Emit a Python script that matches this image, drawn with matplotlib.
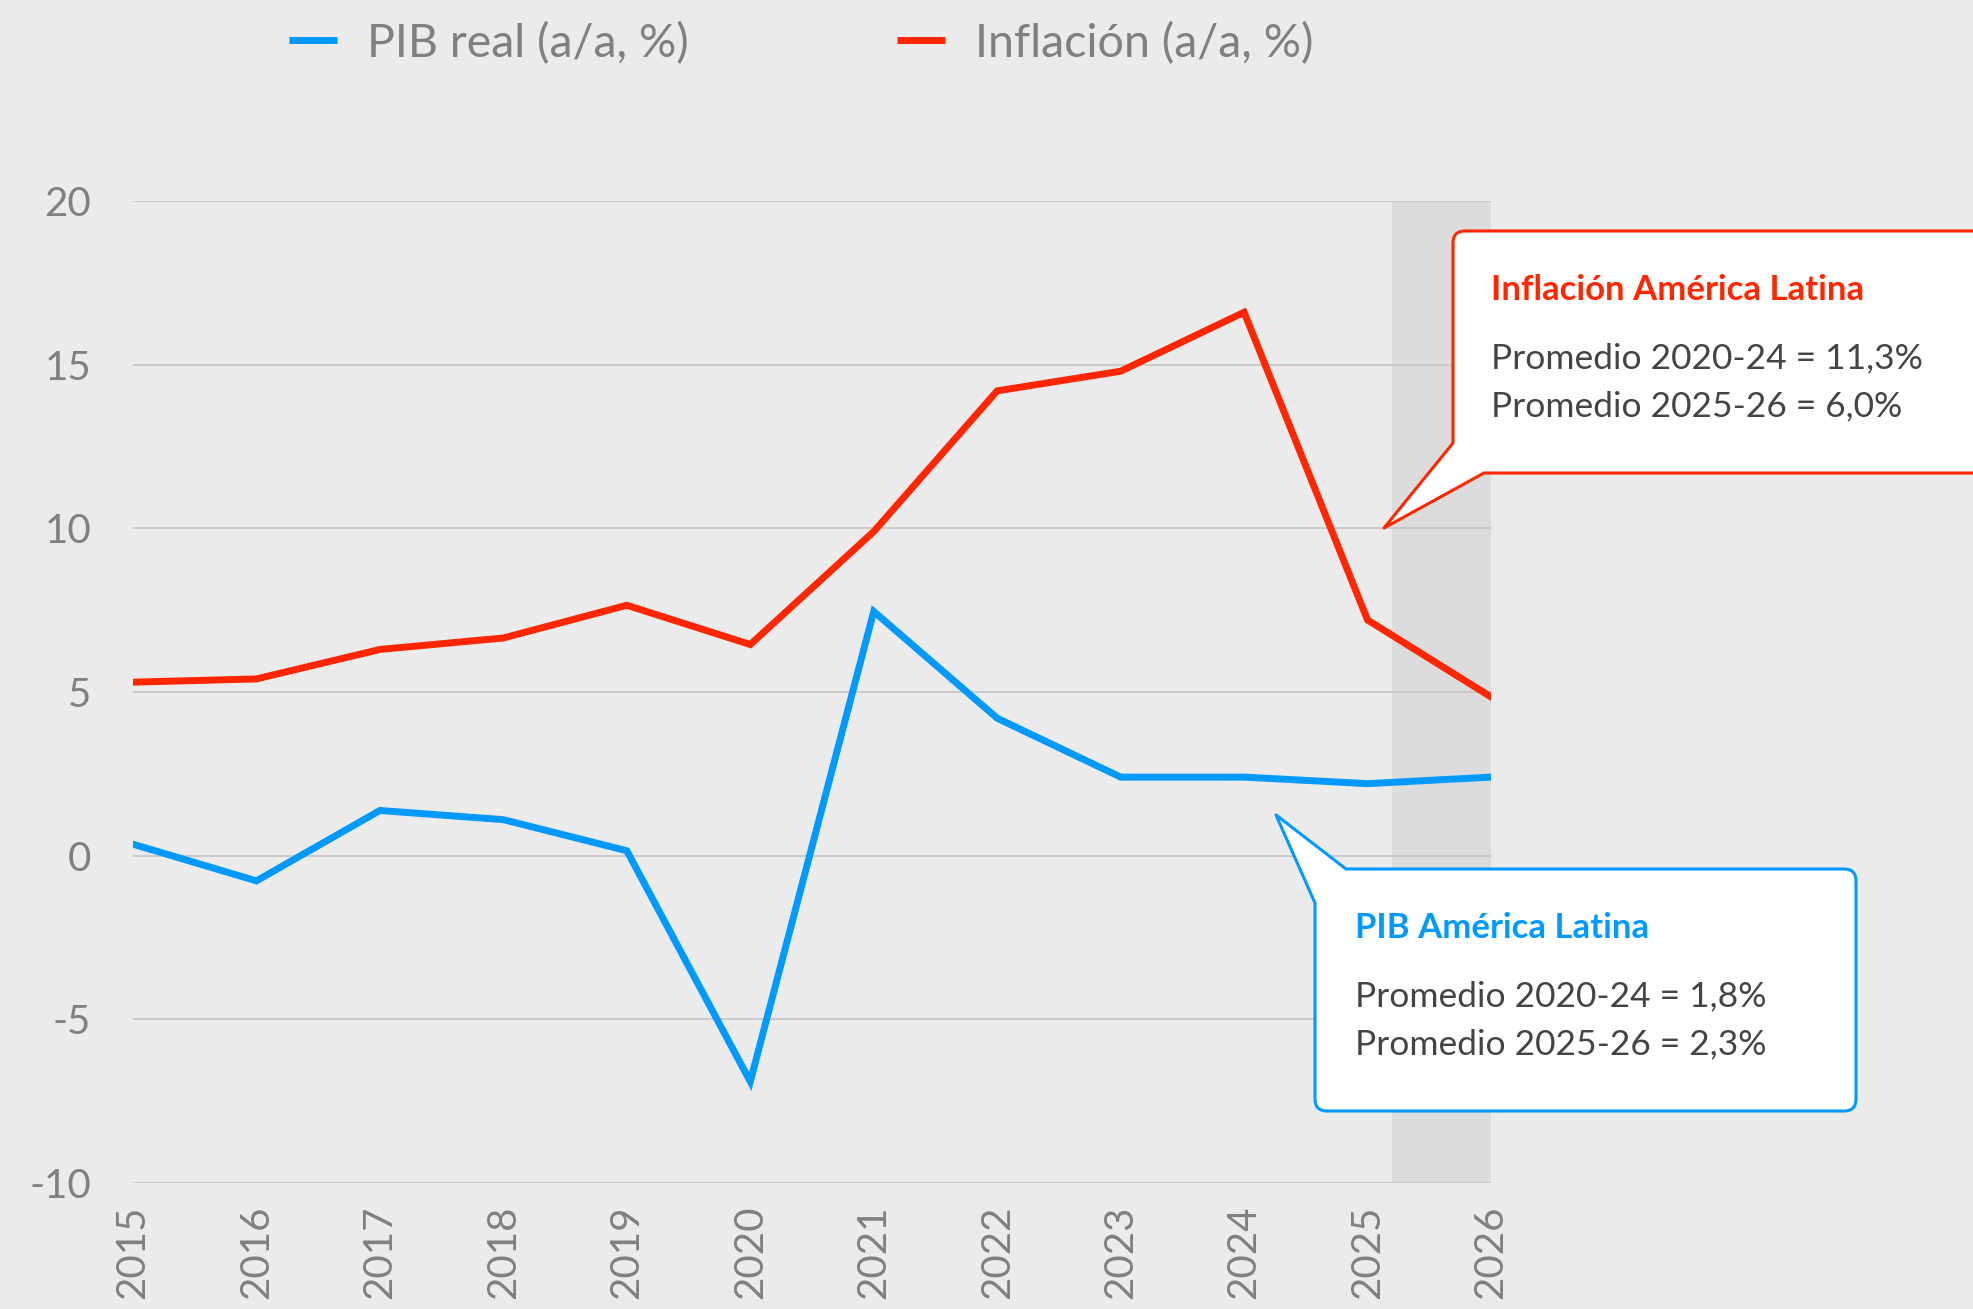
import numpy as np
import matplotlib.pyplot as plt
from matplotlib.path import Path
from matplotlib.patches import PathPatch

plt.rcParams['font.family'] = ['Lato', 'DejaVu Sans']
plt.rcParams['axes.unicode_minus'] = False

years = [2015, 2016, 2017, 2018, 2019, 2020, 2021, 2022, 2023, 2024, 2025, 2026]
pib = [0.35, -0.77, 1.38, 1.1, 0.15, -6.9, 7.46, 4.2, 2.4, 2.4, 2.2, 2.4]
inflacion = [5.3, 5.4, 6.3, 6.65, 7.65, 6.45, 9.9, 14.2, 14.8, 16.6, 7.2, 4.85]
yticks = [-10, -5, 0, 5, 10, 15, 20]

BLUE = '#0099ff'
RED = '#ff2600'
BG = '#ebebeb'
W, H = 1973, 1309

fig = plt.figure(figsize=(W / 100, H / 100), dpi=100, facecolor=BG)
ax = fig.add_axes([133 / W, 1 - 1183 / H, (1491 - 133) / W, (1183 - 201) / H])
ax.set_facecolor(BG)

# zona de proyeccion
ax.axvspan(2025.2, 2026, color='#dcdcdc', zorder=0, lw=0)
for t in yticks:
    ax.axhline(t, color='#c8c8c8', lw=1.3, zorder=1)

ax.plot(years, pib, color=BLUE, lw=5, zorder=3, solid_joinstyle='miter')
ax.plot(years, inflacion, color=RED, lw=5, zorder=3, solid_joinstyle='miter')

ax.set_xlim(2015, 2026)
ax.set_ylim(-10, 20)
ax.set_yticks(yticks)
ax.set_xticks(years)
ax.set_xticklabels([str(y) for y in years], rotation=90, va='top')
for s in ax.spines.values():
    s.set_visible(False)
ax.tick_params(axis='both', length=0, labelsize=29, labelcolor='#808080')
ax.tick_params(axis='y', pad=30)
ax.tick_params(axis='x', pad=16)


def fx(x):
    return x / W


def fy(y):
    return 1 - y / H


def callout(pts, rounded, color, r=12):
    # poligono con esquinas redondeadas en los puntos marcados
    pts = [np.array(p, float) for p in pts]
    n = len(pts)
    verts, codes = [], []
    for i in range(n):
        p = pts[i]
        if rounded[i]:
            a = p + (pts[i - 1] - p) / np.linalg.norm(pts[i - 1] - p) * r
            b = p + (pts[(i + 1) % n] - p) / np.linalg.norm(pts[(i + 1) % n] - p) * r
            verts += [a, p, b]
            codes += [Path.LINETO, Path.CURVE3, Path.CURVE3]
        else:
            verts.append(p)
            codes.append(Path.LINETO)
    codes[0] = Path.MOVETO
    verts.append(verts[0])
    codes.append(Path.CLOSEPOLY)
    verts = [(fx(x), fy(y)) for x, y in verts]
    fig.add_artist(PathPatch(Path(verts, codes), transform=fig.transFigure,
                             facecolor='white', edgecolor=color, lw=2.2, zorder=5,
                             joinstyle='round'))


# recuadro inflacion
callout([(1453, 231), (2000, 231), (2000, 473), (1484, 473), (1384, 528), (1453, 443)],
        [True, False, False, False, False, False], RED)
# recuadro PIB
callout([(1346, 869), (1856, 869), (1856, 1111), (1315, 1111), (1315, 903), (1276, 815)],
        [False, True, True, True, False, False], BLUE)

fig.text(fx(1491), fy(290), 'Inflación América Latina', color=RED, fontsize=25,
         fontweight='bold', va='center', zorder=6)
fig.text(fx(1491), fy(358), 'Promedio 2020-24 = 11,3%', color='#444444', fontsize=25.5,
         va='center', zorder=6)
fig.text(fx(1491), fy(406), 'Promedio 2025-26 = 6,0%', color='#444444', fontsize=25.5,
         va='center', zorder=6)

fig.text(fx(1355), fy(928), 'PIB América Latina', color=BLUE, fontsize=25,
         fontweight='bold', va='center', zorder=6)
fig.text(fx(1355), fy(996), 'Promedio 2020-24 = 1,8%', color='#444444', fontsize=25.5,
         va='center', zorder=6)
fig.text(fx(1355), fy(1044), 'Promedio 2025-26 = 2,3%', color='#444444', fontsize=25.5,
         va='center', zorder=6)

# leyenda
for x0, color, label in [(289, BLUE, 'PIB real (a/a, %)'), (897, RED, 'Inflación (a/a, %)')]:
    fig.add_artist(plt.Line2D([fx(x0), fx(x0 + 48)], [fy(40), fy(40)], color=color,
                              lw=5, transform=fig.transFigure, solid_capstyle='butt'))
    fig.text(fx(x0 + 78), fy(44), label, color='#808080', fontsize=33.5, va='center')

fig.savefig('out.png', dpi=100, facecolor=BG)
